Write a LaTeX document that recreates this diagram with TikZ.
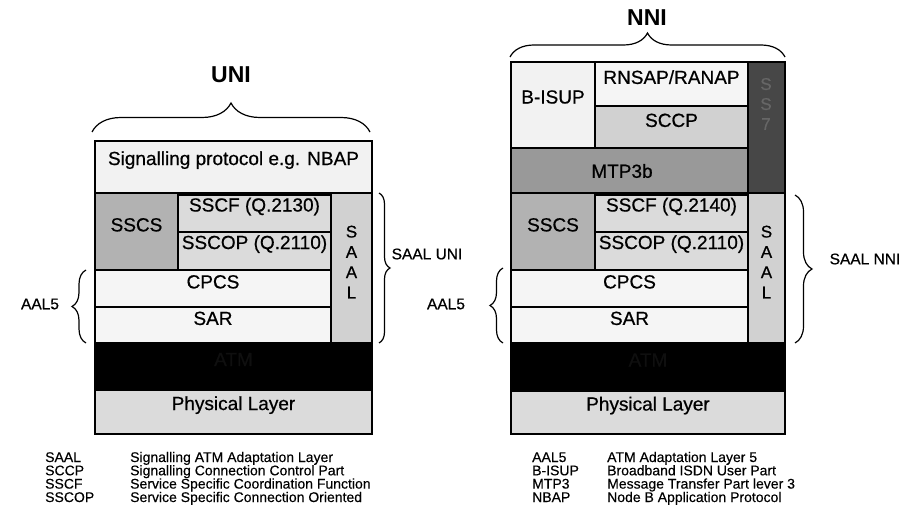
\documentclass[tikz,border=0pt]{standalone}
\usepackage{fontspec}
\setmainfont{Liberation Sans}
\newfontfamily\heavyfont{Liberation Sans}[FakeBold=0.6]
\newfontfamily\midfont{Liberation Sans}[FakeBold=0.3]
\usetikzlibrary{decorations.pathreplacing,fit}

\definecolor{paleGray}{gray}{0.95}
\definecolor{whiteGray}{gray}{0.96}
\definecolor{lightGray}{gray}{0.86}
\definecolor{saalGray}{gray}{0.82}
\definecolor{sccpGray}{gray}{0.82}
\definecolor{sscsGray}{gray}{0.70}
\definecolor{mtpGray}{gray}{0.60}
\definecolor{ssGray}{gray}{0.28}
\definecolor{ssText}{gray}{0.40}
\definecolor{atmText}{gray}{0.06}

\begin{document}
\begin{tikzpicture}[x=1pt,y=-1pt,
  layer/.style={draw=black, line width=1.3pt, inner sep=0pt,
    font=\heavyfont\fontsize{19}{21}\selectfont},
  vert/.style={layer, align=center, font=\heavyfont\fontsize{17}{20.3}\selectfont},
  txt/.style={inner sep=0pt, font=\heavyfont\fontsize{19}{21}\selectfont},
  title/.style={font=\fontsize{23}{25}\selectfont\bfseries},
  side/.style={font=\heavyfont\fontsize{15.5}{17}\selectfont},
  legend/.style={inner sep=0pt, anchor=base west, font=\midfont\fontsize{14}{14}\selectfont},
  curly/.style={decorate, decoration={brace, amplitude=#1}, line width=1.2pt}
]
\useasboundingbox (0,0) rectangle (911,524);

% ---------------- UNI stack ----------------
\node[title] (uni) at (231,75) {UNI};
\coordinate (uniL) at (92,132);
\coordinate (uniR) at (370,132);
\draw[curly=29] (uniL) -- (uniR);

\node[layer, fill=paleGray, fit={(95,141) (372,193)}] (sigU) {Signalling protocol e.g. NBAP};
\node[layer, fill=sscsGray, fit={(95,193) (178,270)}] (sscsU) {SSCS};
\node[layer, fill=lightGray, fit={(178,195) (331,232)}] (sscfU) {SSCF (Q.2130)};
\node[layer, fill=lightGray, fit={(178,232) (331,270)}] (sscopU) {SSCOP (Q.2110)};
\node[vert, fill=saalGray, fit={(331,193) (372,343)}] (saalU) {S\\A\\A\\L};
\node[layer, fill=whiteGray, fit={(95,270) (331,307)}] (cpcsU) {CPCS};
\node[layer, fill=whiteGray, fit={(95,307) (331,343)}] (sarU) {SAR};
\node[layer, fill=black, text=atmText, fit={(95,344) (372,388)}] (atmU) {ATM};
\node[layer, fill=lightGray, fit={(95,390) (372,434)}] (phyU) {Physical Layer};

\coordinate (saalUtop) at (379,193);
\coordinate (saalUbot) at (379,343);
\draw[curly=11] (saalUtop) -- (saalUbot);
\node[side] (saalUlab) at (427,254) {SAAL UNI};

\coordinate (aalUbot) at (86,343);
\coordinate (aalUtop) at (86,270);
\draw[curly=14] (aalUbot) -- (aalUtop);
\node[side] (aalUlab) at (40,304) {AAL5};

% ---------------- NNI stack ----------------
\node[title] (nni) at (647,18) {NNI};
\coordinate (nniL) at (510,57);
\coordinate (nniR) at (785,57);
\draw[curly=24] (nniL) -- (nniR);

\node[layer, fill=paleGray, fit={(511,62) (595,148)}] (bisup) {};
\node[txt] (bisupT) at (553,97) {B-ISUP};
\node[layer, fill=whiteGray, fit={(595,62) (748,106)}] (rnsap) {RNSAP/RANAP};
\node[layer, fill=sccpGray, fit={(595,106) (748,148)}] (sccp) {SCCP};
\node[layer, fill=mtpGray, fit={(511,148) (748,193)}] (mtp) {};
\node[txt] (mtpT) at (622,171) {MTP3b};
\node[vert, fill=ssGray, fit={(748,62) (785,193)}] (ss7) {};
\node[txt, align=center, text=ssText, font=\heavyfont\fontsize{17}{20}\selectfont] (ss7T) at (766,104) {S\\S\\7};

\node[layer, fill=sscsGray, fit={(511,193) (595,270)}] (sscsN) {SSCS};
\node[layer, fill=lightGray, fit={(595,195) (748,232)}] (sscfN) {SSCF (Q.2140)};
\node[layer, fill=lightGray, fit={(595,232) (748,270)}] (sscopN) {SSCOP (Q.2110)};
\node[vert, fill=saalGray, fit={(748,193) (785,343)}] (saalN) {S\\A\\A\\L};
\node[layer, fill=whiteGray, fit={(511,270) (748,307)}] (cpcsN) {CPCS};
\node[layer, fill=whiteGray, fit={(511,307) (748,343)}] (sarN) {SAR};
\node[layer, fill=black, text=atmText, fit={(511,344) (785,389)}] (atmN) {ATM};
\node[layer, fill=lightGray, fit={(511,391) (785,434)}] (phyN) {Physical Layer};

\coordinate (saalNtop) at (795,195);
\coordinate (saalNbot) at (795,343);
\draw[curly=17] (saalNtop) -- (saalNbot);
\node[side] (saalNlab) at (865,259) {SAAL NNI};

\coordinate (aalNbot) at (503,343);
\coordinate (aalNtop) at (503,268);
\draw[curly=13] (aalNbot) -- (aalNtop);
\node[side] (aalNlab) at (446,304) {AAL5};

% ---------------- abbreviations ----------------
\node[legend] (a1) at (45,462) {SAAL};
\node[legend] (b1) at (130,462) {Signalling ATM Adaptation Layer};
\node[legend] (a2) at (45,475.3) {SCCP};
\node[legend] (b2) at (130,475.3) {Signalling Connection Control Part};
\node[legend] (a3) at (45,488.6) {SSCF};
\node[legend] (b3) at (130,488.6) {Service Specific Coordination Function};
\node[legend] (a4) at (45,502) {SSCOP};
\node[legend] (b4) at (130,502) {Service Specific Connection Oriented};

\node[legend] (c1) at (532,462) {AAL5};
\node[legend] (d1) at (607,462) {ATM Adaptation Layer 5};
\node[legend] (c2) at (532,475.3) {B-ISUP};
\node[legend] (d2) at (607,475.3) {Broadband ISDN User Part};
\node[legend] (c3) at (532,488.6) {MTP3};
\node[legend] (d3) at (607,488.6) {Message Transfer Part lever 3};
\node[legend] (c4) at (532,502) {NBAP};
\node[legend] (d4) at (607,502) {Node B Application Protocol};
\end{tikzpicture}
\end{document}
